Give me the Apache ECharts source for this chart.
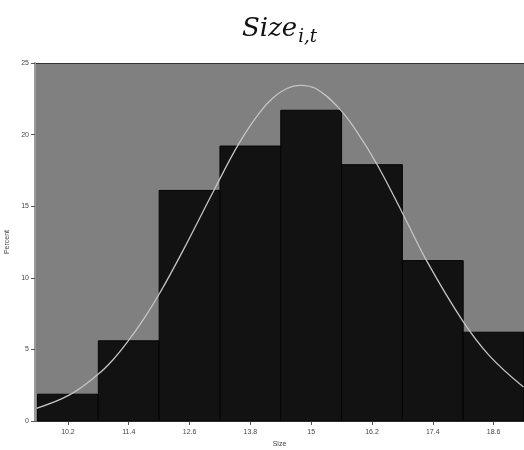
<!DOCTYPE html>
<html>
<head>
<meta charset="utf-8">
<script src="https://cdn.jsdelivr.net/npm/echarts@6/dist/echarts.min.js"></script>
<style>
  html, body { margin: 0; padding: 0; background: #fff; }
  #chart { width: 524px; height: 450px; }
</style>
</head>
<body>
<div id="chart"></div>
<script>
// Histogram bins of Size (width 1.2), percent of observations per bin
const binStarts = [9.6, 10.8, 12.0, 13.2, 14.4, 15.6, 16.8, 18.0];
const binWidth = 1.2;
const percents = [1.87, 5.6, 16.1, 19.2, 21.7, 17.9, 11.2, 6.2];

// Tick labels along the Size axis (bin midpoints)
const xTicks = [10.2, 11.4, 12.6, 13.8, 15, 16.2, 17.4, 18.6];

// Fitted normal density, scaled to percent per bin
const curveX = [9.58, 10.23, 10.8, 11.09, 11.36, 11.69, 12.01, 12.47, 13.08, 13.59, 13.99, 14.25, 14.51, 14.78, 15.1, 15.56, 15.89, 16.29, 16.79, 17.28, 17.98, 18.52, 19.19];
const curveY = [0.89, 1.82, 3.28, 4.28, 5.45, 7.1, 8.92, 11.9, 16.1, 19.47, 21.57, 22.57, 23.2, 23.44, 23.2, 21.8, 20.26, 17.98, 14.6, 11.18, 7.05, 4.55, 2.38];

const bins = binStarts.map((s, i) => [s, s + binWidth, percents[i]]);
const curve = curveX.map((x, i) => [x, curveY[i]]);

const chart = echarts.init(document.getElementById('chart'), null, { renderer: 'canvas' });

const labelStyle = { fontFamily: 'Liberation Sans', fontSize: 7, color: '#444' };

chart.setOption({
  animation: false,
  backgroundColor: '#ffffff',
  title: {
    text: '{a|Size}{b|i,t}',
    left: 237,
    top: 7,
    textStyle: {
      fontWeight: 'normal',
      rich: {
        a: { fontFamily: 'DejaVu Serif', fontStyle: 'italic', fontWeight: 'normal', fontSize: 26, color: '#111', lineHeight: 31 },
        b: { fontFamily: 'DejaVu Serif', fontStyle: 'italic', fontWeight: 'normal', fontSize: 18, color: '#111', padding: [16, 0, 0, 1] }
      }
    }
  },
  grid: {
    left: 35, right: 0, top: 63, bottom: 29,
    outerBoundsMode: 'none',
    containLabel: false,
    show: true,
    backgroundColor: '#808080',
    borderWidth: 0
  },
  xAxis: {
    type: 'value',
    min: 9.55,
    max: 19.2,
    name: 'Size',
    nameLocation: 'middle',
    nameGap: 20,
    nameTextStyle: labelStyle,
    splitLine: { show: false },
    axisLine: { show: true, onZero: false, lineStyle: { color: '#555', width: 1 } },
    axisTick: { show: true, length: 4, customValues: xTicks, lineStyle: { color: '#555' } },
    axisLabel: Object.assign({ customValues: xTicks, margin: 8, formatter: v => String(v) }, labelStyle)
  },
  yAxis: {
    type: 'value',
    min: 0,
    max: 25,
    interval: 5,
    name: 'Percent',
    nameLocation: 'middle',
    nameGap: 20,
    nameRotate: 90,
    nameTextStyle: labelStyle,
    splitLine: { show: false },
    axisLine: { show: true, lineStyle: { color: '#9a9a9a', width: 2 } },
    axisTick: { show: true, length: 4, lineStyle: { color: '#555' } },
    axisLabel: Object.assign({ margin: 6 }, labelStyle)
  },
  series: [
    {
      type: 'custom',
      data: bins,
      encode: { x: [0, 1], y: 2 },
      renderItem: function (params, api) {
        const p0 = api.coord([api.value(0), 0]);
        const p1 = api.coord([api.value(1), api.value(2)]);
        return {
          type: 'rect',
          shape: { x: p0[0], y: p1[1], width: p1[0] - p0[0], height: p0[1] - p1[1] },
          style: { fill: '#121212', stroke: '#050505', lineWidth: 1 }
        };
      },
      z: 2
    },
    {
      type: 'line',
      data: curve,
      smooth: 0.4,
      showSymbol: false,
      lineStyle: { color: '#c4c4c4', width: 1.3 },
      z: 3
    }
  ],
  graphic: [
    {
      type: 'line',
      shape: { x1: 35, y1: 63.5, x2: 524, y2: 63.5 },
      style: { stroke: '#333', lineWidth: 1 }
    }
  ]
});
</script>
</body>
</html>
